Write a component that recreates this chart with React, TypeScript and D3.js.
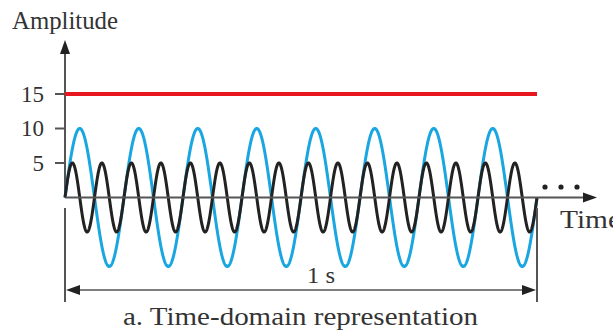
import React from "react";
import * as d3 from "d3";

// signal parameters
const signalNames = ["dc", "blue", "black"];
const amplitudes = [15, 10, 5];
const frequencies = [0, 8, 16];
const colors = ["#e8161e", "#1aa6e0", "#222222"];
const strokeWidths = [4, 3, 3];

const yTicks = [5, 10, 15];

const width = 613;
const height = 330;

const App: React.FC = () => {
  const x = d3.scaleLinear().domain([0, 1]).range([65, 537]);
  const y = d3.scaleLinear().domain([0, 15]).range([197.5, 94]);

  const samples = d3.range(0, 1.0001, 1 / 2000);
  const line = d3
    .line<[number, number]>()
    .x((d) => x(d[0]))
    .y((d) => y(d[1]));

  const paths = signalNames.map((name, i) => {
    const pts: [number, number][] =
      frequencies[i] === 0
        ? [
            [0, amplitudes[i]],
            [1, amplitudes[i]],
          ]
        : samples.map((t) => [
            t,
            amplitudes[i] * Math.sin(2 * Math.PI * frequencies[i] * t),
          ]);
    return { name, d: line(pts) as string, color: colors[i], sw: strokeWidths[i] };
  });

  const axisColor = "#555";
  const textColor = "#333";
  const x0 = x(0);
  const x1 = x(1);
  const zeroY = y(0);
  const dimY = 290;
  const font = { fontFamily: "'Liberation Serif', 'Times New Roman', Times, serif" };

  return (
    <svg
      width={width}
      height={height}
      style={{ position: "absolute", left: 0, top: 0, background: "#fff", ...font }}
    >
      {/* y axis */}
      <line x1={x0} y1={zeroY} x2={x0} y2={52} stroke={axisColor} strokeWidth={2} />
      <path d={`M${x0},40 L${x0 - 5},54 L${x0 + 5},54 Z`} fill="#222" />
      {yTicks.map((t) => (
        <g key={t}>
          <line x1={55} x2={x0} y1={y(t)} y2={y(t)} stroke={axisColor} strokeWidth={2} />
          <text
            x={44}
            y={y(t) + 7.5}
            fontSize={23}
            fill={textColor}
            style={font}
            textAnchor="end"
            textLength={t < 10 ? 11.5 : 23}
            lengthAdjust="spacingAndGlyphs"
          >
            {t}
          </text>
        </g>
      ))}
      <text x={12} y={29} fontSize={25} fill={textColor} style={font} textLength={106} lengthAdjust="spacingAndGlyphs">
        Amplitude
      </text>

      {/* signals */}
      {paths.map((p) => (
        <path key={p.name} d={p.d} fill="none" stroke={p.color} strokeWidth={p.sw} />
      ))}

      {/* time axis */}
      <line x1={x0} y1={zeroY} x2={585} y2={zeroY} stroke={axisColor} strokeWidth={2} />
      <path d={`M597,${zeroY} L583,${zeroY - 5} L583,${zeroY + 5} Z`} fill="#222" />
      {[545, 561, 577].map((cx) => (
        <circle key={cx} cx={cx} cy={187} r={2.6} fill="#222" />
      ))}
      <text x={560} y={228} fontSize={25} fill={textColor} style={font} textLength={61} lengthAdjust="spacingAndGlyphs">
        Time
      </text>

      {/* 1 s dimension */}
      <line x1={x0} x2={x0} y1={208} y2={302} stroke={axisColor} strokeWidth={2} />
      <line x1={x1} x2={x1} y1={208} y2={302} stroke={axisColor} strokeWidth={2} />
      <line x1={x0 + 10} x2={x1 - 10} y1={dimY} y2={dimY} stroke={axisColor} strokeWidth={1.5} />
      <path d={`M${x0 + 1},${dimY} L${x0 + 15},${dimY - 5} L${x0 + 15},${dimY + 5} Z`} fill="#222" />
      <path d={`M${x1 - 1},${dimY} L${x1 - 15},${dimY - 5} L${x1 - 15},${dimY + 5} Z`} fill="#222" />
      <text x={307} y={283} fontSize={24} fill={textColor} style={font} textLength={28} lengthAdjust="spacingAndGlyphs">
        1 s
      </text>
      <text x={123} y={325} fontSize={26} fill={textColor} style={font} textLength={355} lengthAdjust="spacingAndGlyphs">
        a. Time-domain representation
      </text>
    </svg>
  );
};

export default App;
